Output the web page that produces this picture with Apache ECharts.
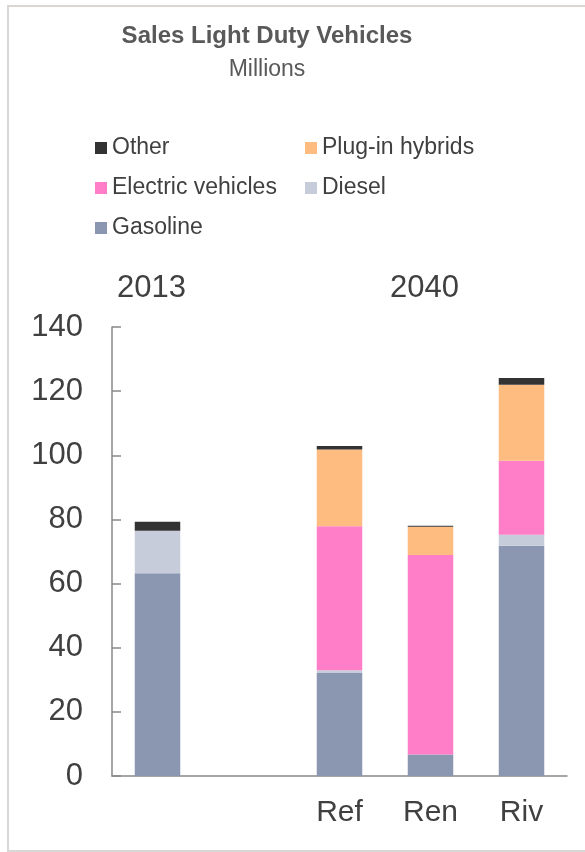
<!DOCTYPE html>
<html>
<head>
<meta charset="utf-8">
<script src="https://cdn.jsdelivr.net/npm/echarts@6/dist/echarts.min.js"></script>
<style>
html,body{margin:0;padding:0;background:#fff;}
#chart{width:585px;height:852px;}
</style>
</head>
<body>
<div id="chart"></div>
<script>
// ---- data ----
var categories = ['', ' ', 'Ref', 'Ren', 'Riv'];
var groupLabels = ['2013', '', '', '2040', ''];
var gasoline = [63.2, null, 32.1, 6.7, 71.8];
var diesel = [13.2, null, 0.9, 0, 3.4];
var electric = [0.1, null, 44.9, 62.2, 23.1];
var plugin = [0, null, 23.9, 8.8, 23.7];
var other = [2.8, null, 1.1, 0.3, 2.1];
var yTicks = [0, 20, 40, 60, 80, 100, 120, 140];

var colors = {
  'Gasoline': '#8B97B0',
  'Diesel': '#C6CCDA',
  'Electric vehicles': '#FF7EC7',
  'Plug-in hybrids': '#FFBC80',
  'Other': '#333333'
};

var FONT = '"Liberation Sans", Arial, sans-serif';

function bar(name, data) {
  return {
    name: name,
    type: 'bar',
    stack: 'total',
    barWidth: '50%',
    data: data,
    itemStyle: { color: colors[name] },
    emphasis: { disabled: true }
  };
}

var chart = echarts.init(document.getElementById('chart'), null, { renderer: 'canvas' });
var option = {
  animation: false,
  backgroundColor: '#ffffff',
  textStyle: { fontFamily: FONT },
  title: {
    text: 'Sales Light Duty Vehicles',
    subtext: 'Millions',
    left: 262,
    textAlign: 'center',
    top: 19,
    itemGap: 10,
    textStyle: { fontFamily: FONT, fontSize: 24, fontWeight: 'bold', color: '#595959' },
    subtextStyle: { fontFamily: FONT, fontSize: 23, color: '#595959' }
  },
  legend: [
    {
      data: ['Other', 'Electric vehicles', 'Gasoline'],
      orient: 'vertical',
      left: 90,
      top: 131,
      itemWidth: 12,
      itemHeight: 12,
      itemGap: 16,
      icon: 'rect',
      selectedMode: false,
      textStyle: { fontFamily: FONT, fontSize: 23, color: '#404040', lineHeight: 24 }
    },
    {
      data: ['Plug-in hybrids', 'Diesel'],
      orient: 'vertical',
      left: 300,
      top: 131,
      itemWidth: 12,
      itemHeight: 12,
      itemGap: 16,
      icon: 'rect',
      selectedMode: false,
      textStyle: { fontFamily: FONT, fontSize: 23, color: '#404040', lineHeight: 24 }
    }
  ],
  grid: { left: 112, right: 18, top: 327, bottom: 76, containLabel: false },
  xAxis: [
    {
      type: 'category',
      data: categories,
      position: 'bottom',
      axisLine: { lineStyle: { color: '#898989', width: 1.5 } },
      axisTick: { show: false },
      axisLabel: { fontFamily: FONT, fontSize: 30, color: '#404040', margin: 22, interval: 0 }
    },
    {
      type: 'category',
      data: groupLabels,
      position: 'top',
      axisLine: { show: false },
      axisTick: { show: false },
      axisLabel: { fontFamily: FONT, fontSize: 31, color: '#404040', margin: 23, interval: 0, padding: [0, 12, 0, 0] }
    }
  ],
  yAxis: {
    type: 'value',
    min: yTicks[0],
    max: yTicks[yTicks.length - 1],
    interval: yTicks[1] - yTicks[0],
    splitLine: { show: false },
    axisLine: { show: true, lineStyle: { color: '#898989', width: 1.5 } },
    axisTick: { show: true, inside: true, length: 9, lineStyle: { color: '#898989', width: 1.5 } },
    axisLabel: { fontFamily: FONT, fontSize: 31, color: '#404040', margin: 29 }
  },
  graphic: [
    {
      type: 'rect',
      silent: true,
      z: 100,
      shape: { x: 8, y: 6, width: 640, height: 845 },
      style: { fill: 'none', stroke: '#d9d6d3', lineWidth: 2 }
    }
  ],
  series: [
    bar('Gasoline', gasoline),
    bar('Diesel', diesel),
    bar('Electric vehicles', electric),
    bar('Plug-in hybrids', plugin),
    bar('Other', other)
  ]
};
chart.setOption(option);
</script>
</body>
</html>
